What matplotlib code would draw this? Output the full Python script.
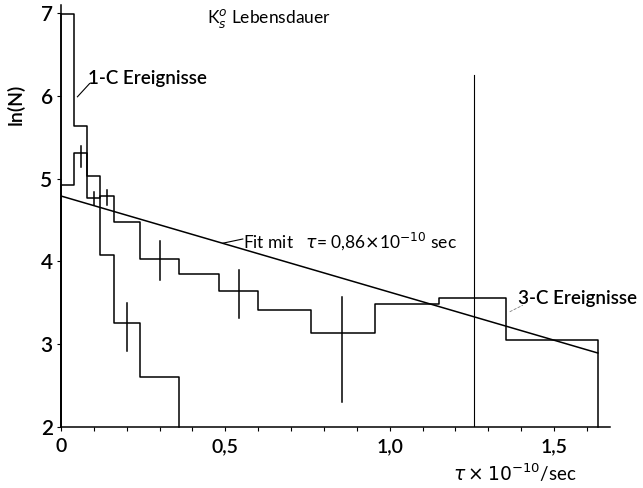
import matplotlib
matplotlib.use("Agg")
import matplotlib.pyplot as plt
import numpy as np

plt.rcParams['font.family'] = ['Lato', 'DejaVu Sans']

# 1-C events histogram (bin edges and ln(N) values)
edges_1c = [0.0, 0.04, 0.08, 0.12, 0.16, 0.24, 0.36]
vals_1c = [6.99, 5.64, 5.03, 4.08, 3.25, 2.60]

# 3-C events histogram
edges_3c = [0.0, 0.04, 0.08, 0.12, 0.16, 0.24, 0.36, 0.48, 0.60, 0.76, 0.955, 1.15, 1.355, 1.633]
vals_3c = [4.92, 5.31, 4.76, 4.79, 4.47, 4.03, 3.85, 3.64, 3.41, 3.13, 3.48, 3.56, 3.05]

# error bars (x, centre, lower, upper)
err_x = [0.06, 0.10, 0.14, 0.30, 0.54, 0.855, 0.20]
err_y = [5.31, 4.76, 4.79, 4.03, 3.64, 3.13, 3.25]
err_lo = [5.14, 4.68, 4.68, 3.77, 3.31, 2.30, 2.92]
err_hi = [5.39, 4.84, 4.86, 4.24, 3.90, 3.57, 3.50]

# fit: ln N = a - t / tau
fit_a = 4.79
fit_tau = 0.86
fit_range = [0.0, 1.633]

# marker line
vline_x = 1.256
vline_top = 6.25

xticks = [0, 0.5, 1.0, 1.5]
xticklabels = ["0", "0,5", "1,0", "1,5"]
yticks = [2, 3, 4, 5, 6, 7]

W = 'semibold'

fig = plt.figure(figsize=(6.43, 4.88), dpi=100)
ax = fig.add_axes([61/643, 61.3/488, 549/643, 421.7/488])
ax.set_xlim(0, 1.67)
ax.set_ylim(2, 7.10)

lw = 1.1
col = 'black'

def hist_line(edges, vals):
    xs = [edges[0]]
    ys = [2.0]
    for i, v in enumerate(vals):
        xs += [edges[i], edges[i + 1]]
        ys += [v, v]
    xs.append(edges[-1])
    ys.append(2.0)
    return xs, ys

x1, y1 = hist_line(edges_1c, vals_1c)
ax.plot(x1, y1, color=col, lw=lw, clip_on=False)
x3, y3 = hist_line(edges_3c, vals_3c)
ax.plot(x3, y3, color=col, lw=lw, clip_on=False)

for x, lo, hi in zip(err_x, err_lo, err_hi):
    ax.plot([x, x], [lo, hi], color=col, lw=lw)

fx = np.array(fit_range)
ax.plot(fx, fit_a - fx / fit_tau, color=col, lw=lw)

ax.plot([vline_x, vline_x], [2, vline_top], color=col, lw=0.8)

for s in ['top', 'right']:
    ax.spines[s].set_visible(False)
for s in ['left', 'bottom']:
    ax.spines[s].set_linewidth(1.1)

ax.set_xticks(xticks)
ax.set_xticklabels(xticklabels, fontweight=W)
ax.set_xticks(np.arange(0.1, 1.65, 0.1), minor=True)
ax.set_yticks(yticks)
ax.set_yticklabels([str(v) for v in yticks], fontweight=W)
ax.tick_params(axis='x', which='both', direction='out', length=3, width=0.8, labelsize=14, pad=5)
ax.tick_params(axis='y', which='both', direction='out', length=3, width=0.8, labelsize=15, pad=3)

# labels
fig.text(16/643, 1 - 104/488, "ln(N)", rotation=90, ha='center', va='center', fontsize=14, fontweight=W)
fig.text(515/643, 1 - 473/488, r"$\tau\times10^{-10}$/sec", ha='center', va='center', fontsize=13.5)

ax.text(0.444, 6.94, r"K$^{o}_{s}$ Lebensdauer", fontsize=12.5, ha='left', va='center')
ax.text(0.083, 6.21, "1-C Ereignisse", fontsize=13.5, ha='left', va='center', fontweight=W)
ax.plot([0.05, 0.087], [5.99, 6.15], color=col, lw=0.8)
ax.text(0.553, 4.24, r"Fit mit   $\tau$= 0,86$\times$10$^{-10}$ sec", fontsize=12.5, ha='left', va='center')
ax.plot([0.493, 0.553], [4.22, 4.27], color=col, lw=0.8)
ax.text(1.389, 3.55, "3-C Ereignisse", fontsize=13.5, ha='left', va='center', clip_on=False, fontweight=W)
ax.plot([1.365, 1.405], [3.39, 3.47], color='gray', lw=0.6, ls='--')

fig.savefig("out.png", dpi=100)
